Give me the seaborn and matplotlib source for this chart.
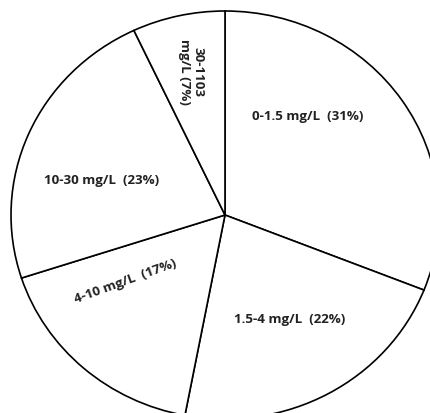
import matplotlib
matplotlib.use("Agg")
import matplotlib.pyplot as plt
import seaborn as sns

# data
ranges = ["0-1.5 mg/L", "1.5-4 mg/L", "4-10 mg/L", "10-30 mg/L", "30-1103 mg/L"]
shares = [31, 22, 17, 23, 7]
labels = ["0-1.5 mg/L  (31%)", "1.5-4 mg/L  (22%)", "4-10 mg/L  (17%)",
          "10-30 mg/L  (23%)", "30-1103\nmg/L (7%)"]

# layout of the labels (pixel centre in the picture, rotation)
label_px = [(308, 117), (290, 320), (125, 281), (102, 181), (191, 72)]
label_rot = [0, 0, 20, 0, -90]

sns.set_style("white")
plt.rcParams["font.family"] = ["Open Sans", "DejaVu Sans"]

W, H = 431, 414
fig = plt.figure(figsize=(W / 100, H / 100), dpi=100)
# pie centre at (225, 216) px, radii 214 x 204 px (slightly stretched)
cx, cy, rx, ry = 225, 216, 214, 204
ax = fig.add_axes([(cx - rx) / W, (H - cy - ry) / H, 2 * rx / W, 2 * ry / H])

ax.pie(shares, startangle=90, counterclock=False,
       colors=["white"] * len(shares),
       wedgeprops=dict(edgecolor="black", linewidth=1.2))
ax.set_aspect("auto")
ax.set_xlim(-1, 1)
ax.set_ylim(-1, 1)
ax.axis("off")

for lab, (px, py), rot in zip(labels, label_px, label_rot):
    ax.text((px - cx) / rx, (cy - py) / ry, lab, rotation=rot,
            ha="center", va="center", fontsize=9.6, fontweight="bold",
            color="#222222", linespacing=1.05, rotation_mode="anchor")

fig.savefig("out.png", dpi=100)
